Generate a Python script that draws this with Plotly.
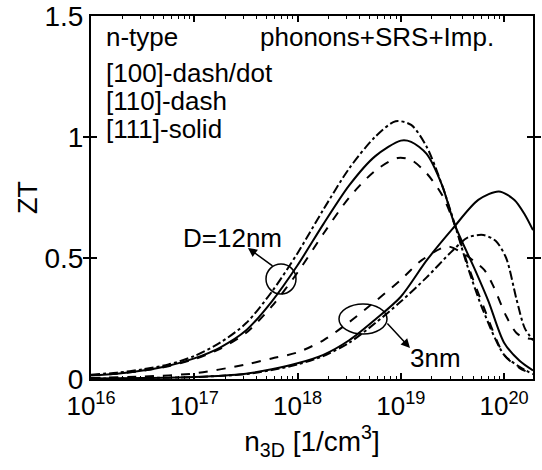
import plotly.graph_objects as go

# log10 of n3D [1/cm^3] and ZT values
lx_12_100 = [16.0, 16.25, 16.5, 16.75, 17.0, 17.25, 17.5, 17.75, 18.0, 18.25, 18.5, 18.75, 18.95, 19.1, 19.25, 19.4, 19.5, 19.65, 19.8, 20.0, 20.15, 20.28]
zt_12_100 = [0.018, 0.026, 0.04, 0.06, 0.095, 0.15, 0.23, 0.36, 0.52, 0.70, 0.87, 1.00, 1.065, 1.05, 0.96, 0.80, 0.67, 0.46, 0.28, 0.10, 0.05, 0.02]

lx_12_111 = [16.0, 16.25, 16.5, 16.75, 17.0, 17.25, 17.5, 17.75, 18.0, 18.25, 18.5, 18.75, 19.0, 19.1, 19.25, 19.4, 19.52, 19.72, 19.85, 20.0, 20.15, 20.28]
zt_12_111 = [0.015, 0.022, 0.035, 0.055, 0.085, 0.13, 0.20, 0.32, 0.47, 0.64, 0.80, 0.92, 0.985, 0.98, 0.93, 0.80, 0.64, 0.45, 0.32, 0.15, 0.075, 0.035]

lx_12_110 = [16.0, 16.25, 16.5, 16.75, 17.0, 17.25, 17.5, 17.75, 18.0, 18.25, 18.5, 18.75, 18.97, 19.1, 19.25, 19.4, 19.52, 19.65, 19.8, 20.0, 20.15, 20.28]
zt_12_110 = [0.015, 0.022, 0.034, 0.053, 0.082, 0.125, 0.19, 0.30, 0.44, 0.60, 0.75, 0.86, 0.913, 0.905, 0.85, 0.76, 0.64, 0.47, 0.30, 0.10, 0.045, 0.02]

lx_3_111 = [16.0, 16.5, 17.0, 17.5, 17.75, 18.0, 18.25, 18.5, 18.75, 19.0, 19.25, 19.5, 19.75, 19.95, 20.1, 20.2, 20.28]
zt_3_111 = [0.002, 0.004, 0.008, 0.022, 0.04, 0.065, 0.10, 0.16, 0.245, 0.34, 0.49, 0.62, 0.74, 0.775, 0.74, 0.68, 0.615]

lx_3_100 = [16.0, 16.5, 17.0, 17.5, 17.75, 18.0, 18.25, 18.5, 18.75, 19.0, 19.25, 19.5, 19.65, 19.8, 19.92, 20.02, 20.12, 20.2, 20.28]
zt_3_100 = [0.002, 0.004, 0.008, 0.02, 0.037, 0.06, 0.095, 0.15, 0.23, 0.32, 0.42, 0.53, 0.585, 0.595, 0.57, 0.50, 0.33, 0.21, 0.16]

lx_3_110 = [16.0, 16.5, 17.0, 17.5, 17.75, 18.0, 18.25, 18.5, 18.75, 19.0, 19.2, 19.45, 19.6, 19.7, 19.81, 19.9, 20.02, 20.12, 20.2, 20.28]
zt_3_110 = [0.004, 0.01, 0.023, 0.06, 0.085, 0.11, 0.16, 0.235, 0.32, 0.41, 0.49, 0.548, 0.52, 0.49, 0.45, 0.38, 0.26, 0.19, 0.17, 0.165]

x_tick_exps = [16, 17, 18, 19, 20]
minor_digits = [2, 3, 4, 5, 6, 7, 8, 9]
y_ticks = [0, 0.5, 1, 1.5]
y_tick_labels = ["0", "0.5", "1", "1.5"]

FONT = "Liberation Sans, Arial, sans-serif"
X_RANGE = [16, 20.28]

series = [
    (lx_12_100, zt_12_100, "dashdot"),
    (lx_12_111, zt_12_111, "solid"),
    (lx_12_110, zt_12_110, "dash"),
    (lx_3_111, zt_3_111, "solid"),
    (lx_3_100, zt_3_100, "dashdot"),
    (lx_3_110, zt_3_110, "dash"),
]

fig = go.Figure()
for lx, zt, dash in series:
    fig.add_trace(go.Scatter(
        x=[10.0 ** v for v in lx], y=zt, mode="lines",
        line=dict(color="black", width=2, dash=dash, shape="spline", smoothing=0.8),
        showlegend=False, hoverinfo="skip",
    ))

# invisible trace to carry the minor-tick overlay axis
fig.add_trace(go.Scatter(x=[10.0 ** X_RANGE[0]], y=[0], xaxis="x2", mode="markers",
                         marker=dict(opacity=0), showlegend=False, hoverinfo="skip"))

minor_vals = [d * 10.0 ** e for e in range(16, 21) for d in minor_digits
              if d * 10.0 ** e < 10.0 ** X_RANGE[1]]

# plot area in pixels: left 91, right 533, top 16, bottom 379
L, R, T, B = 91, 533, 16, 379
W, H = 542, 470


def px(x):
    return (x - L) / (R - L)


def py(y):
    return (B - y) / (B - T)


fig.update_layout(
    width=W, height=H,
    margin=dict(l=L, r=W - R, t=T, b=H - B, autoexpand=False),
    paper_bgcolor="white", plot_bgcolor="white",
    font=dict(family=FONT, size=24, color="black"),
    xaxis=dict(
        type="log", range=X_RANGE, automargin=False,
        tickvals=[10.0 ** e for e in x_tick_exps],
        ticktext=[f"10<sup>{e}</sup>" for e in x_tick_exps],
        ticks="inside", ticklen=6, tickwidth=1.5, tickcolor="black",
        ticklabelstandoff=3,
        showline=True, linecolor="black", linewidth=2, mirror="allticks",
        showgrid=False, zeroline=False,
        tickfont=dict(size=26),
        title=dict(text="n<sub>3D</sub> [1/cm<sup>3</sup>]", font=dict(size=28), standoff=4),
    ),
    xaxis2=dict(
        type="log", range=X_RANGE, overlaying="x", side="bottom", automargin=False,
        tickvals=minor_vals, showticklabels=False,
        ticks="inside", ticklen=3, tickwidth=1, tickcolor="black",
        mirror="ticks", showline=False, showgrid=False, zeroline=False,
    ),
    yaxis=dict(
        range=[0, 1.5], automargin=False,
        tickvals=y_ticks, ticktext=y_tick_labels,
        ticks="inside", ticklen=6, tickwidth=1.5, tickcolor="black",
        showline=True, linecolor="black", linewidth=2, mirror="allticks",
        showgrid=False, zeroline=False,
        tickfont=dict(size=28),
    ),
)

# y-axis title placed precisely
fig.add_annotation(text="ZT", x=px(28), y=py(198), xref="paper", yref="paper",
                   xanchor="center", yanchor="middle", textangle=-90, showarrow=False,
                   font=dict(size=27, family=FONT, color="black"))

# text labels
texts = [
    ("n-type", 104, 37),
    ("phonons+SRS+Imp.", 258, 37),
    ("[100]-dash/dot", 104, 73),
    ("[110]-dash", 104, 101),
    ("[111]-solid", 104, 129),
    ("D=12nm", 181, 238),
    ("3nm", 408, 358),
]
for t, x, y in texts:
    fig.add_annotation(text=t, x=px(x), y=py(y), xref="paper", yref="paper",
                       xanchor="left", yanchor="middle", showarrow=False,
                       font=dict(size=26, family=FONT, color="black"))

# ellipses
fig.add_shape(type="circle", xref="paper", yref="paper",
              x0=px(266), x1=px(296), y0=py(264), y1=py(294),
              line=dict(color="black", width=1.5))
fig.add_shape(type="circle", xref="paper", yref="paper",
              x0=px(339), x1=px(387), y0=py(304), y1=py(334),
              line=dict(color="black", width=1.5))

# arrows
fig.add_annotation(x=px(248), y=py(248), xref="paper", yref="paper", text="",
                   showarrow=True, ax=26, ay=19, arrowhead=2, arrowsize=1.2,
                   arrowwidth=1.5, arrowcolor="black")
fig.add_annotation(x=px(410), y=py(348), xref="paper", yref="paper", text="",
                   showarrow=True, ax=-24, ay=-26, arrowhead=2, arrowsize=1.2,
                   arrowwidth=1.5, arrowcolor="black")

fig.write_html("out.html", config={"displayModeBar": False},
               post_script="document.body.style.margin='0';document.body.style.overflow='hidden';")
